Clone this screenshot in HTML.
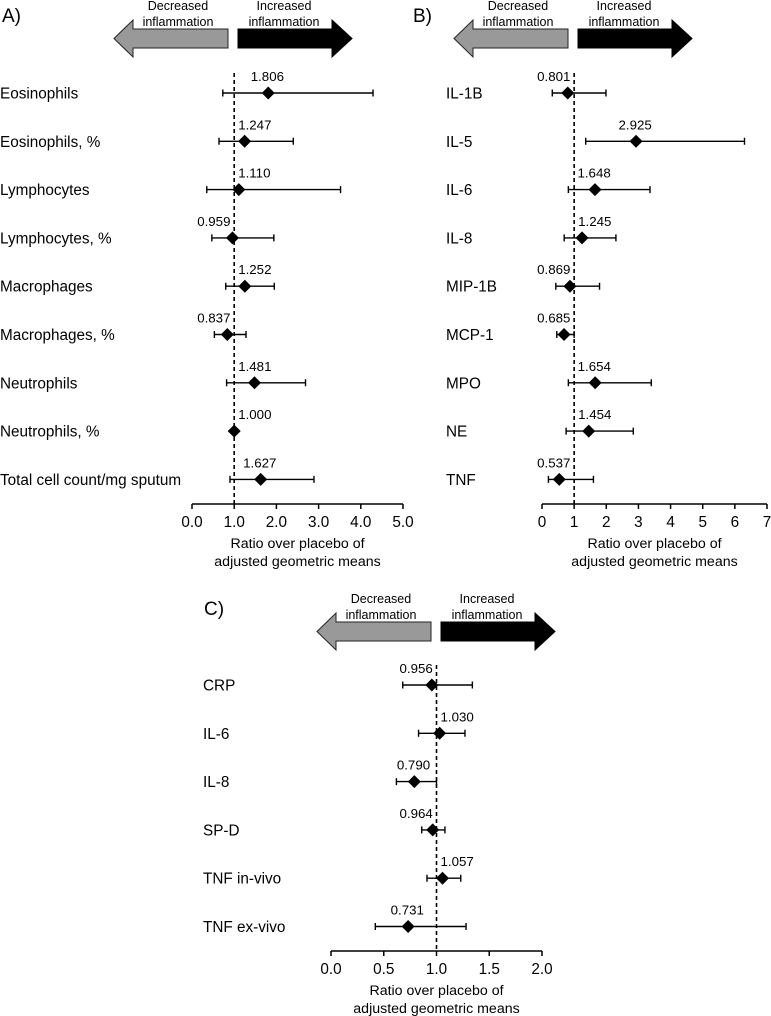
<!DOCTYPE html>
<html><head><meta charset="utf-8"><style>
html,body{margin:0;padding:0;background:#fff;}
svg{display:block;font-family:"Liberation Sans",Arial,sans-serif;}
</style></head><body>
<svg id="fig" width="771" height="1016" viewBox="0 0 771 1016" xmlns="http://www.w3.org/2000/svg"></svg>
<script>
// Panel A data
const catsA = ["Eosinophils","Eosinophils, %","Lymphocytes","Lymphocytes, %","Macrophages","Macrophages, %","Neutrophils","Neutrophils, %","Total cell count/mg sputum"];
const valsA = [1.806,1.247,1.110,0.959,1.252,0.837,1.481,1.000,1.627];
const lowA = [0.73,0.64,0.35,0.47,0.80,0.53,0.82,1.00,0.90];
const highA = [4.29,2.40,3.52,1.94,1.95,1.28,2.69,1.00,2.89];
const ticksA = ["0.0","1.0","2.0","3.0","4.0","5.0"];
// Panel B data
const catsB = ["IL-1B","IL-5","IL-6","IL-8","MIP-1B","MCP-1","MPO","NE","TNF"];
const valsB = [0.801,2.925,1.648,1.245,0.869,0.685,1.654,1.454,0.537];
const lowB = [0.32,1.36,0.82,0.69,0.43,0.46,0.82,0.75,0.20];
const highB = [1.99,6.30,3.36,2.30,1.79,1.00,3.40,2.84,1.60];
const ticksB = ["0","1","2","3","4","5","6","7"];
// Panel C data
const catsC = ["CRP","IL-6","IL-8","SP-D","TNF in-vivo","TNF ex-vivo"];
const valsC = [0.956,1.030,0.790,0.964,1.057,0.731];
const lowC = [0.68,0.83,0.62,0.86,0.91,0.42];
const highC = [1.34,1.27,1.00,1.08,1.23,1.28];
const ticksC = ["0.0","0.5","1.0","1.5","2.0"];

const NS = "http://www.w3.org/2000/svg";
const svg = document.getElementById('fig');
function mk(tag, attrs, parent){
  const e = document.createElementNS(NS, tag);
  for (const k in attrs) e.setAttribute(k, attrs[k]);
  (parent||svg).appendChild(e);
  return e;
}
function txt(s, x, y, size, anchor, parent){
  const t = mk('text', {x:x, y:y, 'font-size':size, 'text-anchor':anchor||'start', fill:'#000'}, parent);
  t.textContent = s;
  return t;
}

function panel(cfg){
  const g = mk('g', {});
  
  
  const dy = cfg.dy, ox = cfg.ox;
  const x = v => cfg.x0 + (v - cfg.min) / (cfg.max - cfg.min) * (cfg.x1 - cfg.x0);
  const rowY = i => cfg.y0 + i * 48.3;
  const L = txt(cfg.letter, cfg.letterX, dy + 22, 19, 'start', g);
  
  
  const ax = ox;
  const ga = mk('polygon', {points:`${ax+114},${dy+38.5} ${ax+133},${dy+20} ${ax+133},${dy+29} ${ax+228},${dy+29} ${ax+228},${dy+48} ${ax+133},${dy+48} ${ax+133},${dy+57}`, fill:'#999', stroke:'#222', 'stroke-width':1}, g);
  
  
  const ba = mk('polygon', {points:`${ax+238},${dy+29} ${ax+332},${dy+29} ${ax+332},${dy+20} ${ax+352},${dy+38.5} ${ax+332},${dy+57} ${ax+332},${dy+48} ${ax+238},${dy+48}`, fill:'#000', stroke:'#000', 'stroke-width':1}, g);
  
  
  const d1 = txt('Decreased', ax+178, dy+10, 12.5, 'middle', g);
  const d2 = txt('inflammation', ax+178, dy+26, 12.5, 'middle', g);
  const i1 = txt('Increased', ax+284, dy+10, 12.5, 'middle', g);
  const i2 = txt('inflammation', ax+284, dy+26, 12.5, 'middle', g);
  
  
  
  
  
  
  
  
  const dx = x(1);
  const ref = mk('line', {x1:dx, y1:cfg.y0-20, x2:dx, y2:cfg.axisY, stroke:'#000', 'stroke-width':1.6, 'stroke-dasharray':'4,3'}, g);
  
  
  cfg.cats.forEach((c, i) => {
    const y = rowY(i);
    const lab = txt(c, cfg.labelX, y + 5.5, 15.3, 'start', g);
    
    
    const lo = x(cfg.low[i]), hi = x(cfg.high[i]);
    if (hi - lo > 1) {
      const eb = mk('path', {d:`M${lo},${y}H${hi}M${lo},${y-3.5}V${y+3.5}M${hi},${y-3.5}V${y+3.5}`, stroke:'#000', 'stroke-width':1.4, fill:'none'}, g);
      
      
    }
    const px = x(cfg.vals[i]);
    const dm = mk('polygon', {points:`${px},${y-6.5} ${px+6.5},${y} ${px},${y+6.5} ${px-6.5},${y}`, fill:'#000'}, g);
    
    
    const s = cfg.vals[i].toFixed(3);
    const w = 35;
    let lx = px - w/2;
    if (lx < dx + 3 && lx + w > dx - 2) {
      lx = cfg.vals[i] >= 1 ? dx + 4 : dx - 2 - w;
    }
    const vl = txt(s, lx, y - 12, 13.3, 'start', g);
    
    
  });
  const ay = cfg.axisY;
  const axis = mk('line', {x1:cfg.x0, y1:ay, x2:cfg.x1, y2:ay, stroke:'#000', 'stroke-width':1.5}, g);
  
  
  const n = cfg.ticks.length;
  cfg.ticks.forEach((t, k) => {
    const v = cfg.min + k * (cfg.max - cfg.min) / (n - 1);
    const tx = x(v);
    const tk = mk('line', {x1:tx, y1:ay, x2:tx, y2:ay+5, stroke:'#000', 'stroke-width':1.5}, g);
    
    
    const tl = txt(t, tx, ay + 23, 15.3, 'middle', g);
    
    
  });
  const cx = (cfg.x0 + cfg.x1) / 2;
  const t1 = txt('Ratio over placebo of', cx, ay + 44, 14.2, 'middle', g);
  const t2 = txt('adjusted geometric means', cx, ay + 62, 14.2, 'middle', g);
  
  
  
  
}

panel({name:'panel-a-sputum', letter:'A)', letterX:2, ox:0, dy:0, labelX:0, y0:93, axisY:504, x0:192, x1:403, min:0, max:5, cats:catsA, vals:valsA, low:lowA, high:highA, ticks:ticksA});
panel({name:'panel-b-cytokines', letter:'B)', letterX:413, ox:340, dy:0, labelX:446, y0:93, axisY:504, x0:542, x1:767, min:0, max:7, cats:catsB, vals:valsB, low:lowB, high:highB, ticks:ticksB});
panel({name:'panel-c-serum', letter:'C)', letterX:204, ox:203, dy:593, labelX:203, y0:685, axisY:951, x0:331, x1:542, min:0, max:2, cats:catsC, vals:valsC, low:lowC, high:highC, ticks:ticksC});
</script>
</body></html>
